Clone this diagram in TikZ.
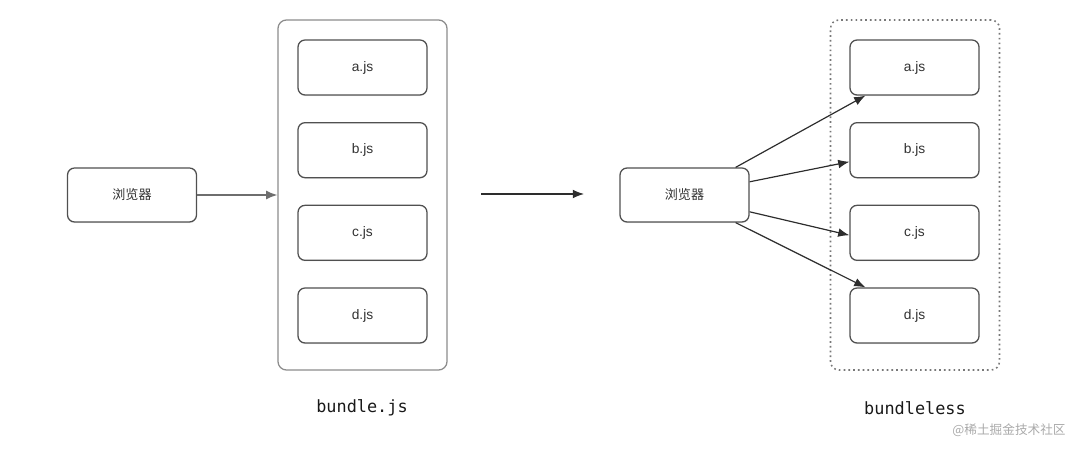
\documentclass[tikz,border=0pt]{standalone}
\usepackage{fontspec}
\setsansfont{Liberation Sans}
\setmonofont{DejaVu Sans Mono}
\newfontfamily\cjk{Noto Sans CJK SC}
\usepackage{tikz}
\usetikzlibrary{arrows.meta,positioning,shadows}
\usepackage{xcolor}
\definecolor{boxedge}  {RGB}{ 80, 80, 80}
\definecolor{packedge} {RGB}{140,140,140}
\definecolor{dotedge}  {RGB}{120,120,120}
\definecolor{linkdark} {RGB}{ 45, 45, 45}
\definecolor{linkgray} {RGB}{110,110,110}
\definecolor{labeltext}{RGB}{ 50, 50, 50}
\definecolor{marktext} {RGB}{170,170,170}

\begin{document}
\begin{tikzpicture}[
    node distance=0.66cm and 1.5cm,
    element/.style={draw=boxedge, rectangle, rounded corners=5pt, line width=0.9pt, fill=white, text=labeltext,
        minimum width=3.225cm, minimum height=1.375cm, align=center, font=\sffamily\fontsize{9.8}{11}\selectfont,
        drop shadow={shadow xshift=0pt, shadow yshift=-0.8pt, opacity=0.15}},
    browser/.style={element, minimum height=1.35cm, font=\cjk\fontsize{9.3}{11}\selectfont},
    pack/.style={draw=packedge, rectangle, rounded corners=6pt, line width=0.9pt, minimum width=4.225cm, minimum height=8.75cm},
    caption/.style={font=\ttfamily\fontsize{12}{14}\selectfont, text=black!90},
    arrow/.style={-{Latex[length=2.8mm,width=2.2mm]}, line width=0.85pt, draw=linkdark}
]
    \useasboundingbox (0,0) rectangle (27,11.2);

    % bundle.js side
    \node[pack] (lpack) at (9.0625,6.325) {};
    \node[browser] (lbrowser) at (3.3,6.325) {浏览器};
    \node[element] (la) at (9.0625,9.5125) {a.js};
    \node[element] (lb) [below=of la] {b.js};
    \node[element] (lc) [below=of lb] {c.js};
    \node[element] (ld) [below=of lc] {d.js};
    \node[caption] (lcap) at (9.05,1.0) {bundle.js};

    \draw[arrow, draw=linkgray] (lbrowser) -- (lpack);

    % middle arrow
    \coordinate (mfrom) at (12.025,6.35);
    \coordinate (mto) at (14.6,6.35);
    \draw[arrow] (mfrom) -- (mto);

    % bundleless side
    \node[pack, draw=dotedge, dash pattern=on 1.2pt off 2.2pt, line width=1.1pt] (rpack) at (22.875,6.325) {};
    \node[browser] (rbrowser) at (17.1125,6.325) {浏览器};
    \node[element] (ra) at (22.8625,9.5125) {a.js};
    \node[element] (rb) [below=of ra] {b.js};
    \node[element] (rc) [below=of rb] {c.js};
    \node[element] (rd) [below=of rc] {d.js};
    \node[caption] (rcap) at (22.875,1.0) {bundleless};

    \draw[arrow] ([xshift=-0.35cm]rbrowser.north east) -- ([xshift=0.4cm]ra.south west);
    \draw[arrow] ([yshift=0.33cm]rbrowser.east) -- ([yshift=-0.29cm]rb.west);
    \draw[arrow] ([yshift=-0.42cm]rbrowser.east) -- ([yshift=-0.06cm]rc.west);
    \draw[arrow] ([xshift=-0.35cm]rbrowser.south east) -- ([xshift=0.4cm]rd.north west);

    \node[text=marktext, font=\cjk\fontsize{9}{11}\selectfont] (mark) at (25.225,0.45) {@稀土掘金技术社区};
\end{tikzpicture}
\end{document}
